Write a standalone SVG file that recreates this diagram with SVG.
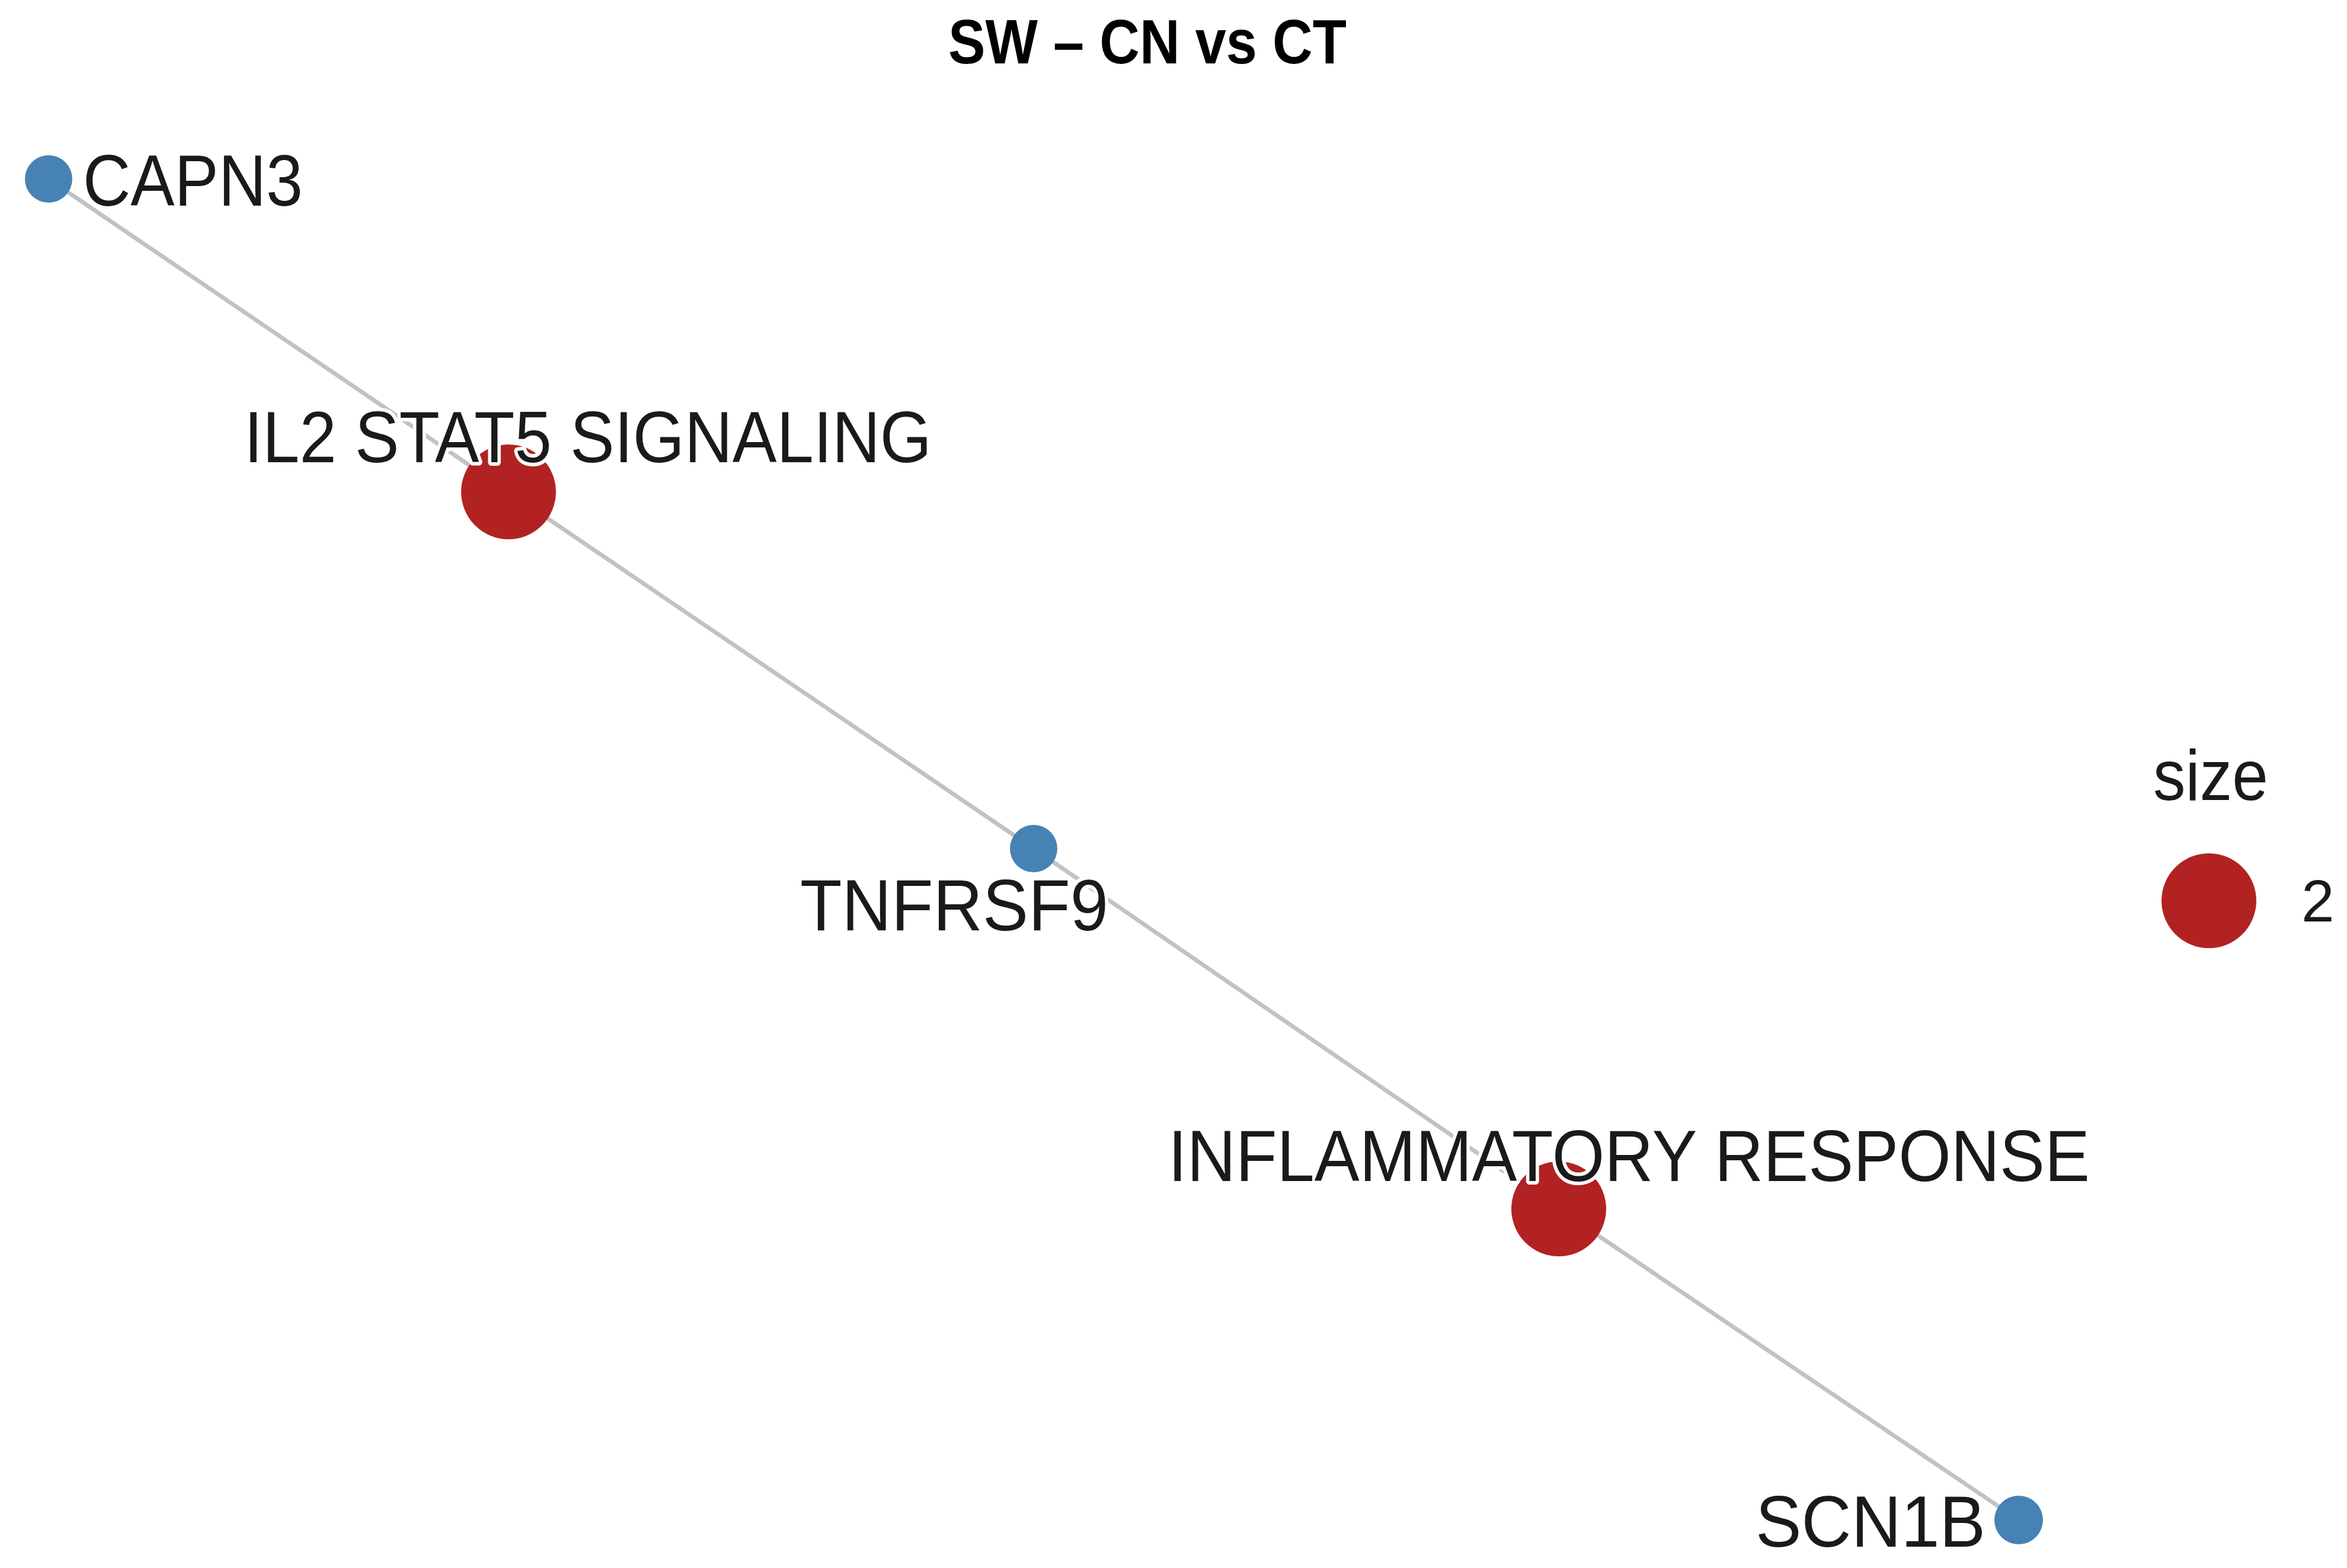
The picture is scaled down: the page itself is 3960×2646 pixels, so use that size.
<svg xmlns="http://www.w3.org/2000/svg" width="3960" height="2646" viewBox="0 0 3960 2646">
<style>
.edge{stroke:#c2c2c2;stroke-width:7;fill:none}
.gene{fill:#4682b4}
.term{fill:#b22222}
.lbl{font-family:"Liberation Sans",Arial,sans-serif;font-size:122px;fill:#1a1a1a;stroke:#ffffff;stroke-width:12px;stroke-linejoin:round;paint-order:stroke}
.title{font-family:"Liberation Sans",Arial,sans-serif;font-size:105px;font-weight:bold;fill:#000}
.leg{font-family:"Liberation Sans",Arial,sans-serif;fill:#1a1a1a}
</style>
<rect width="3960" height="2646" fill="#ffffff"/>
<text class="title" x="1600" y="107" textLength="672" lengthAdjust="spacingAndGlyphs">SW – CN vs CT</text>
<g id="connectors">
<line class="edge" x1="82" y1="302" x2="858" y2="830"/>
<line class="edge" x1="858" y1="830" x2="1744" y2="1432"/>
<line class="edge" x1="1744" y1="1432" x2="2630" y2="2040"/>
<line class="edge" x1="2630" y1="2040" x2="3406" y2="2565"/>
</g>
<g id="node-capn3">
<circle class="gene" cx="82" cy="302" r="40"/>
</g>
<g id="node-il2">
<circle class="term" cx="858" cy="830" r="80"/>
</g>
<g id="node-tnfrsf9">
<circle class="gene" cx="1744" cy="1432" r="40"/>
</g>
<g id="node-inflammatory">
<circle class="term" cx="2630" cy="2040" r="80"/>
</g>
<g id="node-scn1b">
<circle class="gene" cx="3406" cy="2565" r="41"/>
</g>
<g id="labels">
<text class="lbl" x="140" y="347" textLength="371" lengthAdjust="spacingAndGlyphs">CAPN3</text>
<text class="lbl" x="412" y="780" textLength="1160" lengthAdjust="spacingAndGlyphs">IL2 STAT5 SIGNALING</text>
<text class="lbl" x="1350" y="1570" textLength="520" lengthAdjust="spacingAndGlyphs">TNFRSF9</text>
<text class="lbl" x="1971" y="1993" textLength="1555" lengthAdjust="spacingAndGlyphs">INFLAMMATORY RESPONSE</text>
<text class="lbl" x="2962" y="2610" textLength="388" lengthAdjust="spacingAndGlyphs">SCN1B</text>
</g>
<g id="legend">
<text class="leg" x="3633" y="1350" font-size="120" textLength="194" lengthAdjust="spacingAndGlyphs">size</text>
<circle class="term" cx="3727" cy="1520" r="80"/>
<text class="leg" x="3883" y="1555" font-size="100">2</text>
</g>
</svg>
